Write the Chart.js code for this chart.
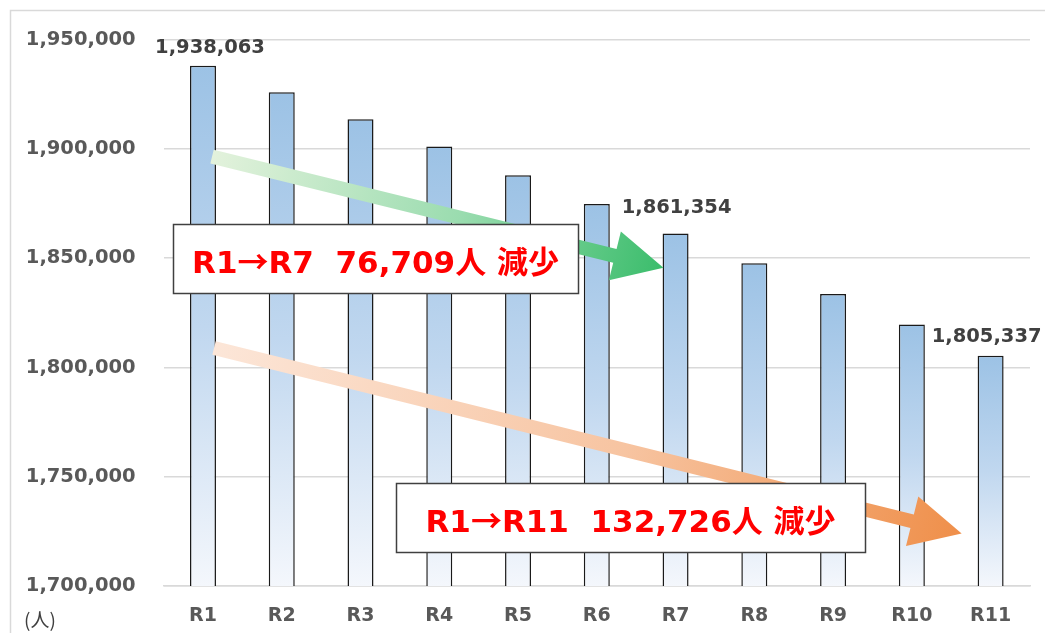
<!DOCTYPE html>
<html><head><meta charset="utf-8">
<script src="https://cdn.jsdelivr.net/npm/chart.js@4"></script>
<style>html,body{margin:0;padding:0;background:#fff}canvas{display:block}</style>
</head><body>
<canvas id="c" width="1045" height="633"></canvas>
<script>
// ---- data ----
const categories = ['R1','R2','R3','R4','R5','R6','R7','R8','R9','R10','R11'];
const population = [1938063, 1926000, 1913600, 1901100, 1888000, 1874800, 1861354, 1847700, 1833600, 1819700, 1805337];
const yMin = 1700000;
const yMax = 1950000;
const yStep = 50000;
const labeledIndices = [0, 6, 10];
const unitLabel = '(人)';
const noteTexts = ['R1→R7  76,709人 減少', 'R1→R11  132,726人 減少'];
// arrows in data space: [fromIndex, fromValue, toIndex, toValue]
const arrowGreen = [0.115, 1896500, 5.846, 1845600];
const arrowOrange = [0.14, 1808900, 9.632, 1724000];

// ---- styles / positions ----
const labelOffsets = {0:[7,-18], 6:[1,-25], 10:[-4,-19]};
const noteBoxes = [
  {x:173, y:224, w:405, h:69},
  {x:396, y:483, w:469, h:69}
];
const noteFontLatin = "bold 31px 'DejaVu Sans', 'Noto Sans CJK JP'";
const noteFontCJK = "bold 31px 'Noto Sans CJK JP'";
const fmt = v => v.toLocaleString('en-US');

function drawArrow(ctx, x0, y0, x1, y1, shaftW, headLen, headHalf, stops) {
  const dx = x1 - x0, dy = y1 - y0, L = Math.hypot(dx, dy);
  const ux = dx / L, uy = dy / L, nx = -uy, ny = ux;
  const bx = x1 - ux * headLen, by = y1 - uy * headLen;
  const g = ctx.createLinearGradient(x0, y0, x1, y1);
  stops.forEach(s => g.addColorStop(s[0], s[1]));
  ctx.beginPath();
  ctx.moveTo(x0 + nx * shaftW / 2, y0 + ny * shaftW / 2);
  ctx.lineTo(bx + nx * shaftW / 2, by + ny * shaftW / 2);
  ctx.lineTo(bx + nx * headHalf, by + ny * headHalf);
  ctx.lineTo(x1, y1);
  ctx.lineTo(bx - nx * headHalf, by - ny * headHalf);
  ctx.lineTo(bx - nx * shaftW / 2, by - ny * shaftW / 2);
  ctx.lineTo(x0 - nx * shaftW / 2, y0 - ny * shaftW / 2);
  ctx.closePath();
  ctx.fillStyle = g;
  ctx.fill();
}

function drawMixedText(ctx, text, cx, baseY) {
  // non-ASCII characters use the CJK font, ASCII runs use the Latin font
  const segs = [];
  for (const ch of text) {
    const f = ch.charCodeAt(0) > 127 ? noteFontCJK : noteFontLatin;
    if (segs.length && segs[segs.length - 1].f === f) segs[segs.length - 1].t += ch;
    else segs.push({t: ch, f});
  }
  let total = 0;
  segs.forEach(s => { ctx.font = s.f; s.w = ctx.measureText(s.t).width; total += s.w; });
  let x = cx - total / 2;
  ctx.textAlign = 'left';
  ctx.textBaseline = 'alphabetic';
  segs.forEach(s => { ctx.font = s.f; ctx.fillText(s.t, x, baseY); x += s.w; });
}

const overlay = {
  id: 'overlay',
  beforeDraw(chart) {
    const ctx = chart.ctx;
    ctx.save();
    ctx.strokeStyle = '#d9d9d9';
    ctx.lineWidth = 1.5;
    ctx.beginPath();
    ctx.moveTo(10.5, 640); ctx.lineTo(10.5, 10.5); ctx.lineTo(1050, 10.5);
    ctx.stroke();
    ctx.restore();
  },
  afterDatasetsDraw(chart) {
    const ctx = chart.ctx, xs = chart.scales.x, ys = chart.scales.y;
    const px = i => xs.getPixelForValue(0) + i * (xs.getPixelForValue(1) - xs.getPixelForValue(0));
    ctx.save();
    const ag = arrowGreen, ao = arrowOrange;
    drawArrow(ctx, px(ag[0]), ys.getPixelForValue(ag[1]), px(ag[2]), ys.getPixelForValue(ag[3]), 14, 50, 25,
      [[0,'#e3f2dc'],[0.55,'#9adcaf'],[1,'#3bbd6c']]);
    drawArrow(ctx, px(ao[0]), ys.getPixelForValue(ao[1]), px(ao[2]), ys.getPixelForValue(ao[3]), 14, 51, 25.5,
      [[0,'#fce6d8'],[0.55,'#f7c4a1'],[1,'#ef8f4a']]);

    // note boxes
    noteBoxes.forEach((b, k) => {
      ctx.fillStyle = '#ffffff';
      ctx.fillRect(b.x, b.y, b.w, b.h);
      ctx.strokeStyle = '#404040';
      ctx.lineWidth = 1.5;
      ctx.strokeRect(b.x + 0.5, b.y + 0.5, b.w, b.h);
      ctx.fillStyle = '#ff0000';
      drawMixedText(ctx, noteTexts[k], b.x + b.w / 2, b.y + 48.5);
    });

    // data labels
    ctx.fillStyle = '#404040';
    ctx.font = "bold 19.5px 'DejaVu Sans'";
    ctx.textAlign = 'center';
    ctx.textBaseline = 'middle';
    labeledIndices.forEach(i => {
      const o = labelOffsets[i] || [0, -18];
      ctx.fillText(fmt(population[i]), xs.getPixelForValue(i) + o[0], ys.getPixelForValue(population[i]) + o[1]);
    });

    // unit label
    ctx.fillStyle = '#404040';
    ctx.font = "19px 'Noto Sans CJK JP'";
    ctx.textAlign = 'left';
    ctx.fillText(unitLabel, 24, 620);
    ctx.restore();
  }
};

new Chart(document.getElementById('c'), {
  type: 'bar',
  data: {
    labels: categories,
    datasets: [{
      data: population,
      borderColor: '#1a1a1a',
      borderWidth: 1.5,
      borderSkipped: 'bottom',
      categoryPercentage: 1,
      barPercentage: 0.33,
      backgroundColor: (c) => {
        const chart = c.chart, area = chart.chartArea;
        if (!area || c.type !== 'data') return '#9dc3e6';
        const top = chart.scales.y.getPixelForValue(c.raw);
        const g = chart.ctx.createLinearGradient(0, top, 0, area.bottom);
        g.addColorStop(0, '#9cc2e5');
        g.addColorStop(0.5, '#c0d7ef');
        g.addColorStop(1, '#f4f7fc');
        return g;
      }
    }]
  },
  options: {
    responsive: false,
    animation: false,
    layout: {padding: {top: 35, right: 15, left: 0, bottom: 0}},
    plugins: {legend: {display: false}, tooltip: {enabled: false}},
    scales: {
      x: {
        grid: {display: false, drawTicks: false},
        border: {display: true, color: '#d9d9d9', width: 1.5},
        ticks: {color: '#595959', font: {family: 'DejaVu Sans', weight: 'bold', size: 19}, padding: 19},
        afterFit: s => { s.height = 47; }
      },
      y: {
        min: yMin, max: yMax,
        grid: {color: '#d9d9d9', lineWidth: 1.5, drawTicks: false},
        border: {display: false},
        ticks: {stepSize: yStep, color: '#595959', padding: 28,
          font: {family: 'DejaVu Sans', weight: 'bold', size: 19.5},
          callback: v => fmt(v)},
        afterFit: s => { s.width = 163.6; }
      }
    }
  },
  plugins: [overlay]
});
</script>
</body></html>
